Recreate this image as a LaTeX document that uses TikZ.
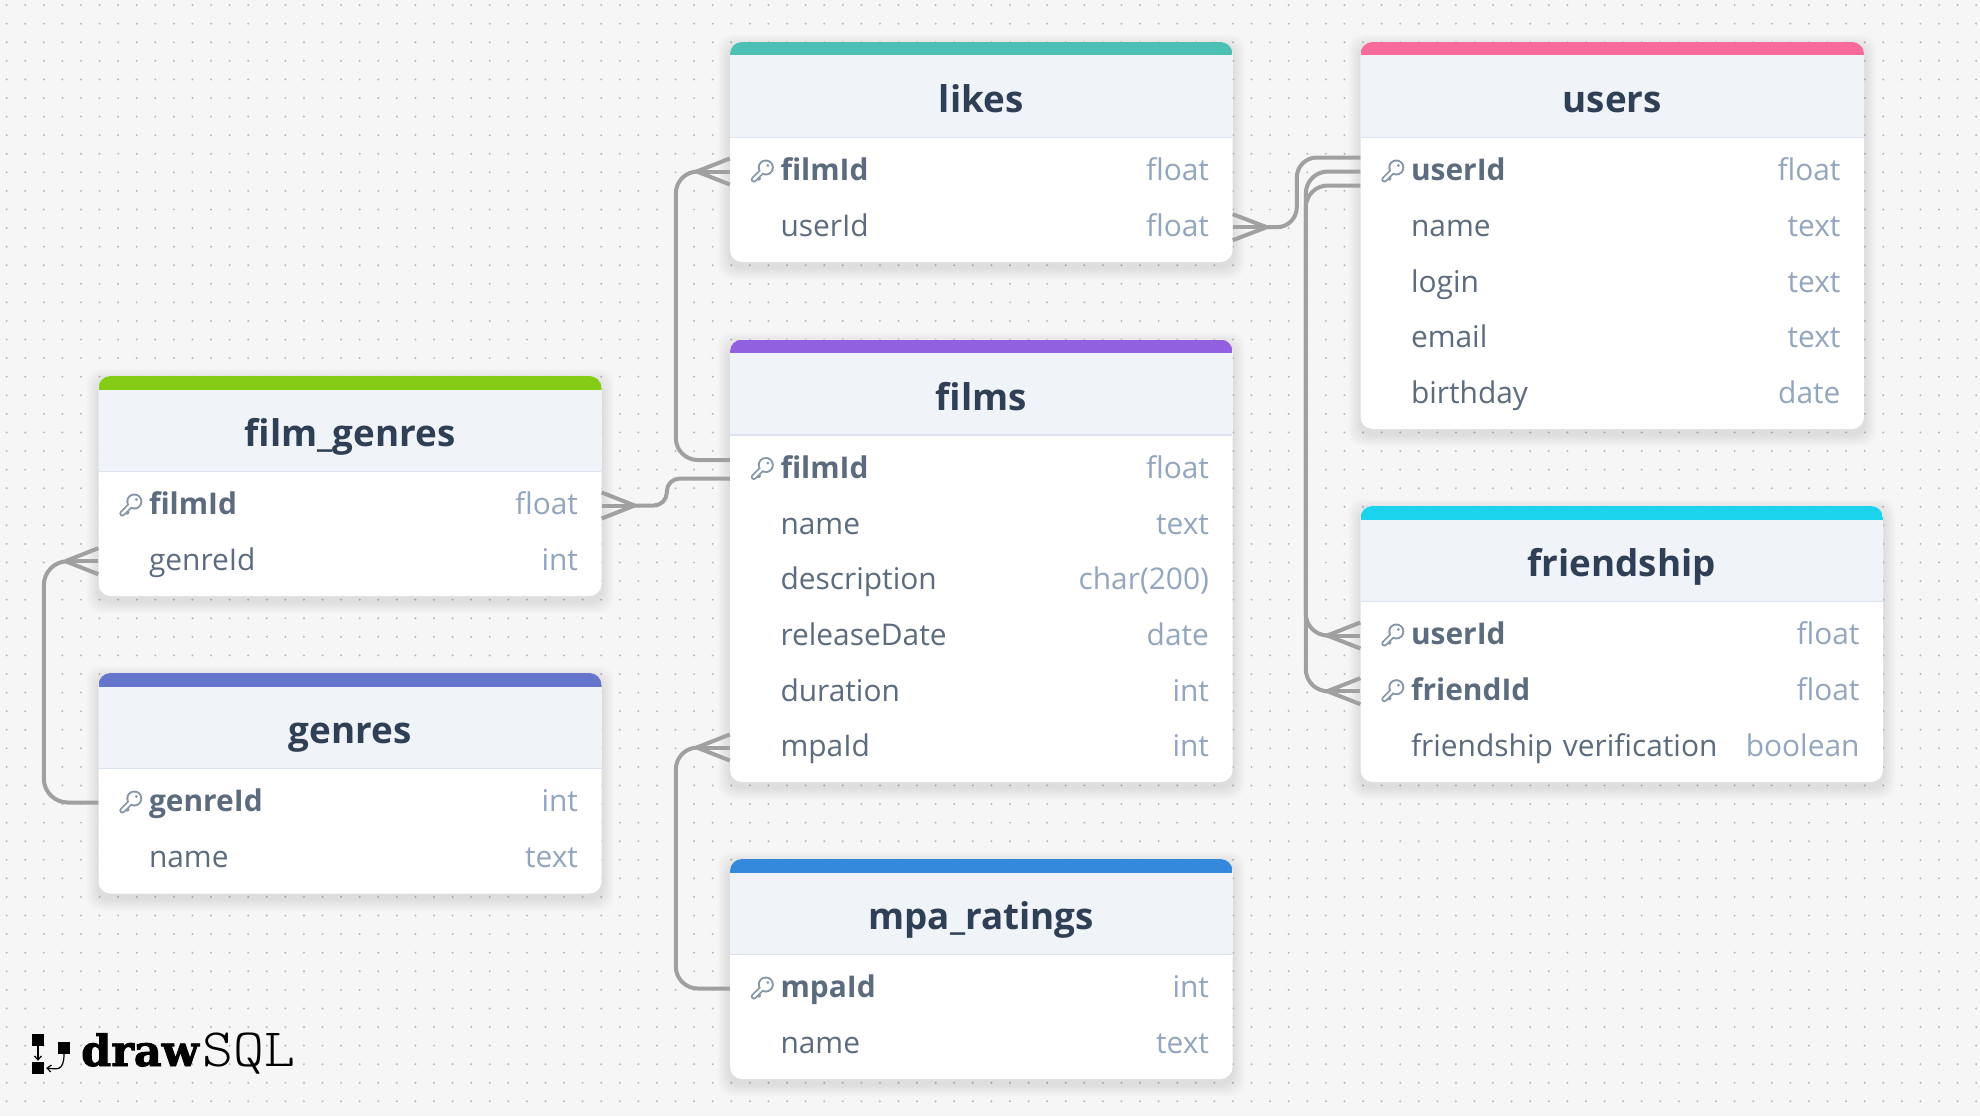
\documentclass[tikz,border=0pt]{standalone}
\usepackage{fontspec}
\setmainfont{Open Sans}
\newfontfamily\logoserif[BoldFeatures={FakeBold=2}]{DejaVu Serif}
\newfontfamily\logomono[FakeStretch=1.09]{Latin Modern Mono Light}
\usetikzlibrary{arrows.meta}
\definecolor{pagebg}{HTML}{F6F6F6}
\definecolor{griddot}{HTML}{B8B8B8}
\definecolor{headbg}{HTML}{F0F3F8}
\definecolor{headline}{HTML}{DBE3EE}
\definecolor{titleink}{HTML}{2F3F55}
\definecolor{nameink}{HTML}{5C6C7E}
\definecolor{typeink}{HTML}{94A6BE}
\definecolor{keyink}{HTML}{8496A8}
\definecolor{connink}{HTML}{A0A0A0}
\definecolor{barlikes}{HTML}{4CC0B4}
\definecolor{barusers}{HTML}{F76A9B}
\definecolor{barfilms}{HTML}{9060E0}
\definecolor{barfriend}{HTML}{1CD3EE}
\definecolor{barfg}{HTML}{84CC16}
\definecolor{bargenres}{HTML}{6575CC}
\definecolor{barmpa}{HTML}{3589DC}
\tikzset{
  conn/.style={draw=connink,line width=4pt},
  tablebox/.style={rectangle,fill=white,rounded corners=12pt,inner sep=0pt},
  titlelabel/.style={anchor=base,inner sep=0pt,text=titleink,font=\fontsize{36.8}{42}\selectfont\bfseries},
  rowbox/.style={rectangle,inner xsep=0pt,inner ysep=0pt,align=left,font=\fontsize{29.9}{36}\selectfont},
  logosq/.style={rectangle,fill=black,minimum size=12pt,inner sep=0pt},
  logoarrow/.style={draw=black,line width=1.2pt,-{Straight Barb[length=4pt,width=7pt]}},
  keyicon/.pic={
    \draw[keyink,line width=6pt,line cap=round] (1,-1) -- (-8,8);
    \draw[keyink,line width=4.2pt,line cap=round] (-5,5) -- (-3,7);
    \fill[keyink] (4,-4) circle (8);
    \draw[white,line width=2.4pt,line cap=round] (1,-1) -- (-8,8);
    \fill[white] (4,-4) circle (6);
    \fill[keyink] (6,-6) circle (1.5);
  }
}
\newcommand{\erdtable}[7]{% id, x1, x2, top, bottom, bar colour, title
  \pgfmathsetmacro\tbx{#2}\pgfmathsetmacro\tbr{#3}\pgfmathsetmacro\tbt{#4}\pgfmathsetmacro\tbb{#5}
  \def\tbid{#1}
  \pgfmathsetmacro\tbc{(\tbx+\tbr)/2}
  \pgfmathsetmacro\tbw{\tbr-\tbx}
  \pgfmathsetmacro\tbm{(\tbt+\tbb)/2}
  \pgfmathsetmacro\tbh{\tbb-\tbt}
  \foreach \s in {12,10,8,6,4,2}{
    \fill[black,opacity=.015,rounded corners=14pt] (\tbx-\s,\tbt-\s+5) rectangle (\tbr+\s,\tbb+\s+5);
  }
  \node[tablebox,minimum width=\tbw pt,minimum height=\tbh pt] (#1) at (\tbc,\tbm) {};
  \begin{scope}
    \clip[rounded corners=12pt] (\tbx,\tbt) rectangle (\tbr,\tbb);
    \fill[headbg] (\tbx,\tbt) rectangle (\tbr,\tbt+95.5);
    \fill[headline] (\tbx,\tbt+94.5) rectangle (\tbr,\tbt+96);
    \fill[#6] (\tbx,\tbt) rectangle (\tbr,\tbt+13.5);
  \end{scope}
  \node[titlelabel] (#1-title) at (\tbc,\tbt+70.5) {#7};
}
\newcommand{\erdstrut}{\rule[-18.55pt]{0pt}{55.7pt}}
\newcommand{\plainrow}[4]{% rowid, k, name, type
  \pgfmathsetmacro\rowy{\tbt+129.5+#2*55.7}
  \node[rowbox,text width=\tbw pt] (\tbid-#1) at (\tbc,\rowy)
    {\erdstrut\kern50.5pt\textcolor{nameink}{#3}\hfill\textcolor{typeink}{#4}\kern23.5pt};
}
\newcommand{\keyrow}[4]{%
  \pgfmathsetmacro\rowy{\tbt+129.5+#2*55.7}
  \node[rowbox,text width=\tbw pt] (\tbid-#1) at (\tbc,\rowy)
    {\erdstrut\kern50.5pt\textcolor{nameink}{\bfseries #3}\hfill\textcolor{typeink}{#4}\kern23.5pt};
  \pic at ([xshift=32pt]\tbid-#1.west) {keyicon};
}
\newcommand{\crowfoot}[2]{% anchor, tip xshift
  \draw[conn] ([xshift=#2pt]#1) -- ([yshift=13pt]#1);
  \draw[conn] ([xshift=#2pt]#1) -- (#1);
  \draw[conn] ([xshift=#2pt]#1) -- ([yshift=-13pt]#1);
}
\begin{document}
\begin{tikzpicture}[x=1pt,y=-1pt]
\useasboundingbox (0,0) rectangle (1980,1116);
\fill[pagebg] (0,0) rectangle (1980,1116);
\foreach \j in {0,...,60}{
  \foreach \i in {0,...,106}{
    \fill[griddot] ({6.66+18.58*\i},{5.1+18.58*\j}) circle (1.1);
  }
}

\erdtable{likes}{730}{1232.5}{42}{262}{barlikes}{likes}
\keyrow{filmId}{0}{filmId}{float}
\plainrow{userId}{1}{userId}{float}

\erdtable{users}{1360.5}{1864}{42}{429}{barusers}{users}
\keyrow{userId}{0}{userId}{float}
\plainrow{name}{1}{name}{text}
\plainrow{login}{2}{login}{text}
\plainrow{email}{3}{email}{text}
\plainrow{birthday}{4}{birthday}{date}

\erdtable{films}{730}{1232.5}{339.5}{782}{barfilms}{films}
\keyrow{filmId}{0}{filmId}{float}
\plainrow{name}{1}{name}{text}
\plainrow{description}{2}{description}{char(200)}
\plainrow{releaseDate}{3}{releaseDate}{date}
\plainrow{duration}{4}{duration}{int}
\plainrow{mpaId}{5}{mpaId}{int}

\erdtable{friendship}{1360.5}{1883}{506}{782}{barfriend}{friendship}
\keyrow{userId}{0}{userId}{float}
\keyrow{friendId}{1}{friendId}{float}
\plainrow{verification}{2}{friendship verification}{boolean}

\erdtable{filmgenres}{98.5}{601.5}{376}{596}{barfg}{film\_genres}
\keyrow{filmId}{0}{filmId}{float}
\plainrow{genreId}{1}{genreId}{int}

\erdtable{genres}{98.5}{601.5}{673}{893.5}{bargenres}{genres}
\keyrow{genreId}{0}{genreId}{int}
\plainrow{name}{1}{name}{text}

\erdtable{mparatings}{730}{1232.5}{859}{1079}{barmpa}{mpa\_ratings}
\keyrow{mpaId}{0}{mpaId}{int}
\plainrow{name}{1}{name}{text}

% connectors
\crowfoot{likes-filmId.west}{-33}
\draw[conn,rounded corners=22pt] ([yshift=9pt]films-filmId.west) -- ++(-54,0) |- ([xshift=-33pt]likes-filmId.west);
\crowfoot{filmgenres-filmId.east}{33}
\draw[conn,rounded corners=13pt] ([yshift=-9.5pt]films-filmId.west) -- ++(-63,0) |- ([xshift=33pt]filmgenres-filmId.east);
\crowfoot{filmgenres-genreId.west}{-33}
\draw[conn,rounded corners=24pt] (genres-genreId.west) -- ++(-54.5,0) |- ([xshift=-33pt]filmgenres-genreId.west);
\crowfoot{films-mpaId.west}{-33}
\draw[conn,rounded corners=22pt] (mparatings-mpaId.west) -- ++(-54,0) |- ([xshift=-33pt]films-mpaId.west);
\crowfoot{likes-userId.east}{34}
\draw[conn,rounded corners=20pt] ([yshift=14pt]users-userId.west) -- ++(-63.5,0) |- ([xshift=34pt]likes-userId.east);
\crowfoot{friendship-userId.west}{-33}
\draw[conn,rounded corners=22pt] (users-userId.west) -- ++(-54.5,0) |- ([xshift=-33pt]friendship-userId.west);
\crowfoot{friendship-friendId.west}{-33}
\draw[conn,rounded corners=22pt] ([yshift=-14pt]users-userId.west) -- ++(-54.5,0) |- ([xshift=-33pt]friendship-friendId.west);

% logo
\node[logosq] (logoa) at (38,1040) {};
\node[logosq] (logob) at (64,1048) {};
\node[logosq] (logoc) at (38,1068) {};
\draw[logoarrow] (logoa.south) -- ([yshift=1pt]logoc.north);
\draw[logoarrow] (logob.south) .. controls (64,1072) and (56,1069) .. ([xshift=2pt]logoc.east);
\node[anchor=base west,inner sep=0pt,font={\logoserif\bfseries\fontsize{43}{46}\selectfont}] (logodraw) at (81,1066) {draw};
\node[anchor=base west,inner sep=0pt,font={\logomono\fontsize{54}{56}\selectfont}] (logosql) at (202,1066) {SQL};
\end{tikzpicture}
\end{document}
